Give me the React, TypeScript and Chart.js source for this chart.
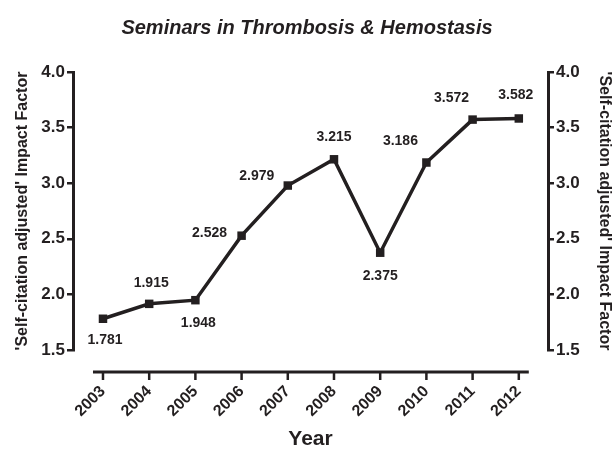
import React, { useEffect, useRef } from "react";
import { Chart, registerables } from "chart.js";

Chart.register(...registerables);

const years = [2003, 2004, 2005, 2006, 2007, 2008, 2009, 2010, 2011, 2012];
const impactFactor = [1.781, 1.915, 1.948, 2.528, 2.979, 3.215, 2.375, 3.186, 3.572, 3.582];
const yTicks = [1.5, 2.0, 2.5, 3.0, 3.5, 4.0];
const labelDx = [2, 2, 3, -32, -31, 0, 0, -26, -21, -3];
const labelDy = [21, -21, 23, -3, -9, -22, 23, -21, -21, -23];

const TITLE = "Seminars in Thrombosis & Hemostasis";
const Y_TITLE = "'Self-citation adjusted' Impact Factor";
const X_TITLE = "Year";
const INK = "#231f20";
const FONT = "'Liberation Sans', Arial, sans-serif";

const decorPlugin = {
  id: "decor",
  afterDatasetsDraw(chart: any) {
    const ctx = chart.ctx;
    const xs = chart.scales.x;
    const ca = chart.chartArea;
    // detached x axis line with ticks
    const yLine = ca.bottom + 22;
    const x0 = xs.getPixelForValue(years[0]) - 10;
    const x1 = xs.getPixelForValue(years[years.length - 1]) + 10;
    ctx.save();
    ctx.strokeStyle = INK;
    ctx.lineWidth = 3;
    ctx.beginPath();
    ctx.moveTo(x0, yLine);
    ctx.lineTo(x1, yLine);
    ctx.stroke();
    ctx.lineWidth = 2.5;
    years.forEach((yr) => {
      const px = xs.getPixelForValue(yr);
      ctx.beginPath();
      ctx.moveTo(px, yLine);
      ctx.lineTo(px, yLine + 8);
      ctx.stroke();
    });
    // value labels
    const meta = chart.getDatasetMeta(0);
    ctx.fillStyle = INK;
    ctx.font = "bold 14px " + FONT;
    ctx.textAlign = "center";
    ctx.textBaseline = "middle";
    meta.data.forEach((pt: any, i: number) => {
      ctx.fillText(impactFactor[i].toFixed(3), pt.x + labelDx[i], pt.y + labelDy[i]);
    });
    ctx.restore();
  },
};

export default function App() {
  const ref = useRef<HTMLCanvasElement>(null);
  useEffect(() => {
    document.body.style.margin = "0";
    const canvas = ref.current!;
    const yCommon = (position: "left" | "right", width: number, titlePad: number) => ({
      type: "linear" as const,
      position,
      min: 1.5,
      max: 4.0,
      afterBuildTicks: (s: any) => {
        s.ticks = yTicks.map((v) => ({ value: v }));
      },
      afterFit: (s: any) => {
        s.width = width;
      },
      border: { display: true, color: INK, width: 3 },
      grid: { drawOnChartArea: false, drawTicks: true, tickLength: 6, color: INK, lineWidth: 2.5 },
      ticks: {
        color: INK,
        padding: 2,
        font: { family: FONT, size: 17, weight: "bold" as const },
        callback: (v: any) => Number(v).toFixed(1),
      },
      title: {
        display: true,
        text: Y_TITLE,
        color: INK,
        padding: { top: titlePad, bottom: 0 },
        font: { family: FONT, size: 16, weight: "bold" as const, lineHeight: 1 },
      },
    });
    const chart = new Chart(canvas, {
      type: "line",
      data: {
        datasets: [
          {
            data: years.map((yr, i) => ({ x: yr, y: impactFactor[i] })),
            borderColor: INK,
            backgroundColor: INK,
            borderWidth: 3.5,
            pointStyle: "rect",
            pointRadius: 6,
            pointBorderWidth: 0,
            tension: 0,
            yAxisID: "y",
          },
          {
            data: [],
            yAxisID: "y2",
          },
        ],
      },
      options: {
        animation: false,
        responsive: false,
        maintainAspectRatio: false,
        layout: { padding: 0 },
        plugins: {
          legend: { display: false },
          tooltip: { enabled: false },
          title: {
            display: true,
            text: TITLE,
            color: INK,
            font: { family: FONT, size: 20, weight: "bold", style: "italic", lineHeight: 1.2 },
            padding: { top: 16, bottom: 32 },
          },
        },
        scales: {
          x: {
            type: "linear",
            min: 2002.351,
            max: 2012.632,
            afterBuildTicks: (s: any) => {
              s.ticks = years.map((v) => ({ value: v }));
            },
            afterFit: (s: any) => {
              s.height = 100;
            },
            border: { display: false },
            grid: { display: false, drawTicks: false },
            ticks: {
              color: INK,
              padding: 32,
              minRotation: 45,
              maxRotation: 45,
              autoSkip: false,
              font: { family: FONT, size: 16, weight: "bold" },
              callback: (v: any) => String(v),
            },
            title: {
              display: true,
              text: X_TITLE,
              color: INK,
              padding: 0,
              font: { family: FONT, size: 21, weight: "bold", lineHeight: 1 },
            },
          },
          y: yCommon("left", 73, 15) as any,
          y2: yCommon("right", 66, 2) as any,
        },
      },
      plugins: [decorPlugin],
    });
    return () => chart.destroy();
  }, []);
  return (
    <div style={{ width: 614, height: 450, background: "#fff" }}>
      <canvas ref={ref} width={614} height={450} style={{ display: "block" }} />
    </div>
  );
}
